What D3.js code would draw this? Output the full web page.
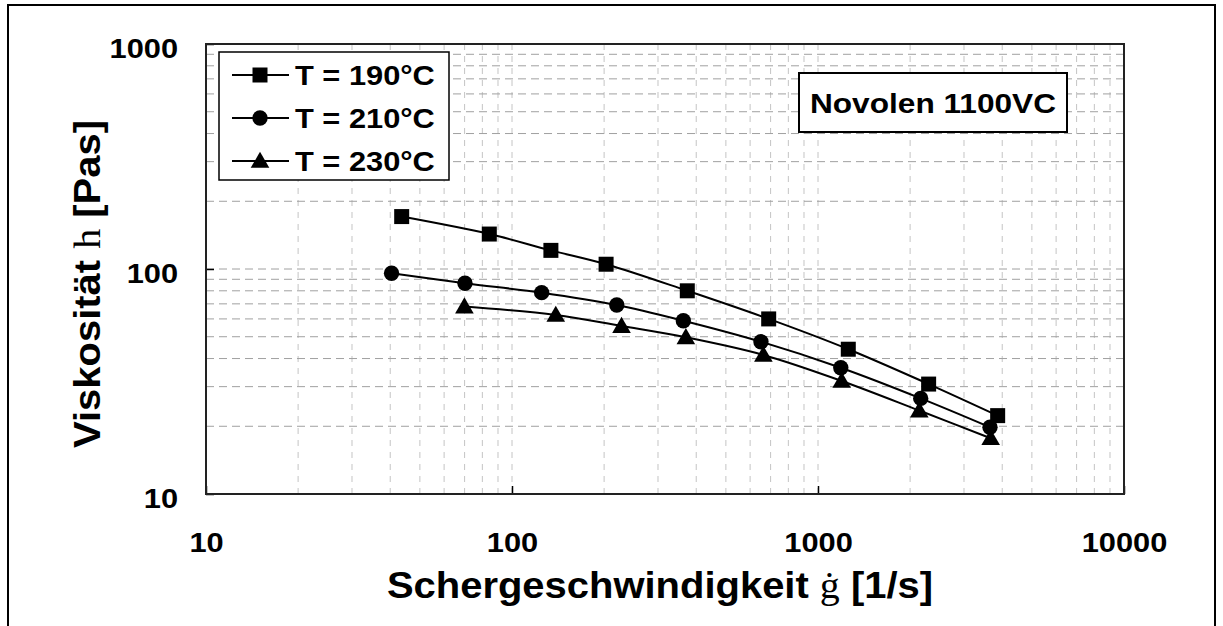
<!DOCTYPE html>
<html>
<head>
<meta charset="utf-8">
<script src="https://cdn.jsdelivr.net/npm/d3@7"></script>
<style>
  html,body{margin:0;padding:0;background:#fff;}
  text{font-family:"Liberation Sans",Arial,sans-serif;font-weight:bold;fill:#000;}
</style>
</head>
<body>
<div id="chart"></div>
<script>
// Scherrate [1/s] und Viskosität [Pas]
const x190=[43.6,84.3,134,203,374,690,1256,2299,3865];
const y190=[171,143,121,105,80,60,44,30.8,22.3];
const x210=[40.4,70.2,125,220,363,651,1187,2166,3648];
const y210=[95.7,86.4,78.5,69.2,58.9,47.5,36.4,26.6,19.8];
const x230=[69.9,139,228,370,663,1195,2143,3667];
const y230=[68.1,62.5,55.8,49.7,41.5,31.8,23.5,17.7];
const serien=['T = 190°C','T = 210°C','T = 230°C'];
const xTicks=[10,100,1000,10000];
const yTicks=[10,100,1000];
const infoText='Novolen 1100VC';

const W=1223,H=626, sx=1.1;
const svg=d3.select('#chart').append('svg').attr('width',W).attr('height',H);
const x=d3.scaleLog().domain([10,10000]).range([206,1124]);
const y=d3.scaleLog().domain([10,1000]).range([494,44]);

// äußerer Rahmen
svg.append('rect').attr('x',8).attr('y',5).attr('width',1207).attr('height',H+10)
  .attr('fill','none').attr('stroke','#000').attr('stroke-width',2);

// Gitter
const g=svg.append('g');
g.selectAll('line.gx').data(x.ticks().filter(v=>v>10&&v<10000)).join('line').attr('class','gx')
  .attr('x1',d=>x(d)).attr('x2',d=>x(d)).attr('y1',y(10)).attr('y2',y(1000))
  .attr('stroke','#c4c4c4').attr('stroke-width',1).attr('stroke-dasharray','6,6');
g.selectAll('line.gy').data(y.ticks().filter(v=>v>10&&v<1000)).join('line').attr('class','gy')
  .attr('y1',d=>y(d)).attr('y2',d=>y(d)).attr('x1',x(10)).attr('x2',x(10000))
  .attr('stroke','#a0a0a0').attr('stroke-width',1).attr('stroke-dasharray','8,5');

// Achsen
const ax=svg.append('g').attr('transform',`translate(0,${y(10)})`)
  .call(d3.axisBottom(x).tickValues(xTicks).tickSizeInner(-8).tickSizeOuter(0).tickFormat(d3.format('d')));
const ay=svg.append('g').attr('transform',`translate(${x(10)},0)`)
  .call(d3.axisLeft(y).tickValues(yTicks).tickSizeInner(-8).tickSizeOuter(0).tickFormat(d3.format('d')));
[ax,ay].forEach(a=>{
  a.select('.domain').remove();
  a.selectAll('.tick line').attr('stroke','#000').attr('stroke-width',1.5);
  a.selectAll('text').attr('font-size',28).attr('font-family','"Liberation Sans",Arial,sans-serif')
    .attr('font-weight','bold').attr('fill','#000').attr('dy',null);
});
ax.selectAll('text').attr('y',58).attr('transform',`scale(${sx},1)`);
ay.selectAll('text').attr('x',-28/sx).attr('y',13).attr('transform',`scale(${sx},1)`);

// Plotrahmen
svg.append('rect').attr('x',x(10)).attr('y',y(1000)).attr('width',x(10000)-x(10)).attr('height',y(10)-y(1000))
  .attr('fill','none').attr('stroke','#222').attr('stroke-width',2);

// Symbole
const sq=d3.symbol().type(d3.symbolSquare).size(225);
const ci=d3.symbol().type(d3.symbolCircle).size(185);
const tr=d3.symbol().type(d3.symbolTriangle).size(150);
const data=[
  {pts:x190.map((v,i)=>[v,y190[i]]),sym:sq},
  {pts:x210.map((v,i)=>[v,y210[i]]),sym:ci},
  {pts:x230.map((v,i)=>[v,y230[i]]),sym:tr}
];
const line=d3.line().x(d=>x(d[0])).y(d=>y(d[1])).curve(d3.curveCatmullRom);
data.forEach(s=>{
  svg.append('path').attr('d',line(s.pts)).attr('fill','none').attr('stroke','#000').attr('stroke-width',2);
  svg.selectAll(null).data(s.pts).join('path').attr('d',s.sym)
    .attr('transform',d=>`translate(${x(d[0])},${y(d[1])+(s.sym===tr?1.5:0)})`).attr('fill','#000');
});

// Legende
const lg=svg.append('g');
lg.append('rect').attr('x',219).attr('y',52).attr('width',230).attr('height',128)
  .attr('fill','#fff').attr('stroke','#000').attr('stroke-width',1.5);
const ly=[75,118,161];
serien.forEach((t,i)=>{
  lg.append('line').attr('x1',232).attr('x2',289).attr('y1',ly[i]).attr('y2',ly[i]).attr('stroke','#000').attr('stroke-width',2);
  lg.append('path').attr('d',data[i].sym).attr('transform',`translate(260,${ly[i]+(i===2?1.5:0)})`).attr('fill','#000');
  lg.append('text').attr('transform',`translate(295,${ly[i]+10}) scale(${sx},1)`).attr('font-size',28).text(t);
});

// Infobox
svg.append('rect').attr('x',799).attr('y',73).attr('width',268).attr('height',59)
  .attr('fill','#fff').attr('stroke','#000').attr('stroke-width',2);
svg.append('text').attr('transform',`translate(933,113) scale(1.13,1)`).attr('text-anchor','middle')
  .attr('font-size',28).text(infoText);

// Achsentitel
const xt=svg.append('text').attr('transform','translate(660,598) scale(1.08,1)').attr('text-anchor','middle').attr('font-size',37);
xt.append('tspan').text('Schergeschwindigkeit ');
xt.append('tspan').attr('font-family','"Liberation Serif",serif').attr('font-weight','normal').text('ġ');
xt.append('tspan').text(' [1/s]');
const yt=svg.append('text').attr('transform','translate(100,284) rotate(-90) scale(1.08,1)').attr('text-anchor','middle').attr('font-size',37);
yt.append('tspan').text('Viskosität ');
yt.append('tspan').attr('font-family','"Liberation Serif",serif').attr('font-weight','normal').text('h');
yt.append('tspan').text(' [Pas]');
</script>
</body>
</html>
